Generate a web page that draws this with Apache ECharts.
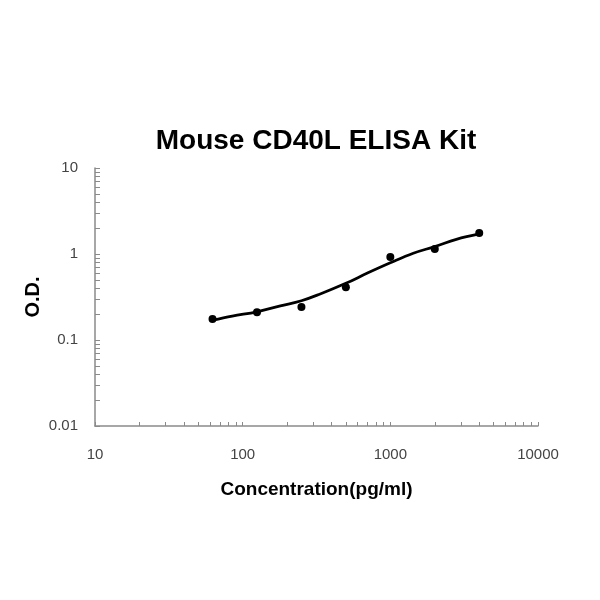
<!DOCTYPE html>
<html>
<head>
<meta charset="utf-8">
<script src="https://cdn.jsdelivr.net/npm/echarts@6/dist/echarts.min.js"></script>
<style>
  html, body { margin: 0; padding: 0; background: #fff; }
  #chart { width: 600px; height: 600px; }
</style>
</head>
<body>
<div id="chart"></div>
<script>
// standard points
const concentrations = [62.5, 125, 250, 500, 1000, 2000, 4000];
const odValues = [0.175, 0.21, 0.242, 0.41, 0.92, 1.14, 1.75];

// fitted curve
const curveX = [62.5, 85, 125, 180, 250, 335, 500, 700, 1000, 1430, 2000, 2800, 4000];
const curveY = [0.170, 0.190, 0.213, 0.249, 0.286, 0.343, 0.456, 0.60, 0.79, 1.02, 1.22, 1.48, 1.71];

// log tick positions
const xTicks = [10, 20, 30, 40, 50, 60, 70, 80, 90, 100, 200, 300, 400, 500, 600, 700, 800, 900,
  1000, 2000, 3000, 4000, 5000, 6000, 7000, 8000, 9000, 10000];
const yTicks = [0.01, 0.02, 0.03, 0.04, 0.05, 0.06, 0.07, 0.08, 0.09, 0.1, 0.2, 0.3, 0.4, 0.5,
  0.6, 0.7, 0.8, 0.9, 1, 2, 3, 4, 5, 6, 7, 8, 9, 10];
const xLabels = [10, 100, 1000, 10000];
const yLabels = [0.01, 0.1, 1, 10];

const chart = echarts.init(document.getElementById("chart"));

chart.setOption({
  animation: false,
  title: {
    text: "Mouse CD40L ELISA Kit",
    left: 311,
    top: 122,
    textAlign: "center",
    textStyle: {
      fontFamily: "Liberation Sans",
      fontWeight: "bold",
      fontSize: 28,
      color: "#000",
    },
  },
  grid: {
    left: 95,
    right: 62,
    top: 168,
    bottom: 174,
  },
  xAxis: {
    type: "log",
    logBase: 10,
    min: 10,
    max: 10000,
    name: "Concentration(pg/ml)",
    nameLocation: "middle",
    nameGap: 54,
    nameMoveOverlap: false,
    nameTextStyle: {
      fontFamily: "Liberation Sans",
      fontWeight: "bold",
      fontSize: 19,
      color: "#000",
    },
    axisLine: { lineStyle: { color: "#8a8a8a", width: 1.5 } },
    axisTick: {
      inside: true,
      length: 4,
      customValues: xTicks,
      lineStyle: { color: "#8a8a8a", width: 1 },
    },
    axisLabel: {
      customValues: xLabels,
      formatter: (v) => String(v),
      margin: 21,
      fontFamily: "Liberation Sans",
      fontSize: 15,
      color: "#444",
    },
    splitLine: { show: false },
  },
  yAxis: {
    type: "log",
    logBase: 10,
    min: 0.01,
    max: 10,
    name: "O.D.",
    nameLocation: "middle",
    nameGap: 52,
    nameMoveOverlap: false,
    nameTextStyle: {
      fontFamily: "Liberation Sans",
      fontWeight: "bold",
      fontSize: 20,
      color: "#000",
    },
    axisLine: { show: true, lineStyle: { color: "#8a8a8a", width: 1.5 } },
    axisTick: {
      show: true,
      inside: true,
      length: 5,
      customValues: yTicks,
      lineStyle: { color: "#8a8a8a", width: 1 },
    },
    axisLabel: {
      customValues: yLabels,
      formatter: (v) => String(v),
      margin: 17,
      fontFamily: "Liberation Sans",
      fontSize: 15,
      color: "#444",
    },
    splitLine: { show: false },
  },
  series: [
    {
      name: "Fit",
      type: "line",
      data: curveX.map((x, i) => [x, curveY[i]]),
      smooth: 0.4,
      showSymbol: false,
      lineStyle: { color: "#000", width: 2.8 },
      z: 2,
    },
    {
      name: "Standards",
      type: "scatter",
      data: concentrations.map((x, i) => [x, odValues[i]]),
      symbolSize: 8,
      itemStyle: { color: "#000", opacity: 1 },
      z: 3,
    },
  ],
});
</script>
</body>
</html>
